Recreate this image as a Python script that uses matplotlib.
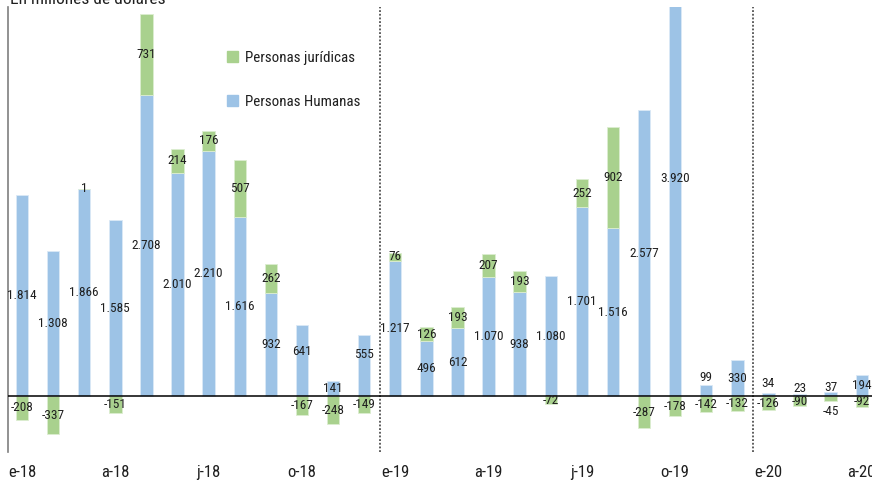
import matplotlib
matplotlib.use("Agg")
import matplotlib.pyplot as plt
from matplotlib import font_manager
from matplotlib.patches import Patch

# pick a narrow face if one is available
installed = {f.name for f in font_manager.fontManager.ttflist}
family = "Roboto"
for name in ["Roboto Condensed", "Liberation Sans Narrow"]:
    if name in installed:
        family = name
        break
plt.rcParams["font.family"] = [family, "DejaVu Sans"]

# monthly flows, Jan-2018 .. Apr-2020 (millions of USD)
months = ["e-18", "f-18", "m-18", "a-18", "m-18", "j-18", "j-18", "a-18", "s-18", "o-18", "n-18", "d-18",
          "e-19", "f-19", "m-19", "a-19", "m-19", "j-19", "j-19", "a-19", "s-19", "o-19", "n-19", "d-19",
          "e-20", "f-20", "m-20", "a-20"]
humanas = [1814, 1308, 1866, 1585, 2708, 2010, 2210, 1616, 932, 641, 141, 555,
           1217, 496, 612, 1070, 938, 1080, 1701, 1516, 2577, 3920, 99, 330,
           34, 23, 37, 194]
juridicas = [-208, -337, 1, -151, 731, 214, 176, 507, 262, -167, -248, -149,
             76, 126, 193, 207, 193, -72, 252, 902, -287, -178, -142, -132,
             -126, -90, -45, -92]
tick_every = 3

blue = "#9dc3e6"
green = "#a9d18e"
txt = "#1f1f1f"

# hand nudges (points) for labels that would collide near the zero line
hum_nudge = {9: 7, 11: 8, 22: 10, 24: 8, 25: 5, 26: 5}
jur_nudge = {26: -9}


def fmt(v):
    return f"{v:,}".replace(",", ".")


fig = plt.figure(figsize=(8.72, 4.8), dpi=100)
ax = fig.add_axes([0.0092, 0.0583, 0.9908, 0.927])

x = list(range(len(months)))
w = 0.4
jur_bottom = [h if j > 0 else 0 for h, j in zip(humanas, juridicas)]

ax.bar(x, humanas, width=w, color=blue, edgecolor="#dbe9f6", linewidth=0.6, zorder=2)
ax.bar(x, juridicas, width=w, bottom=jur_bottom, color=green, edgecolor="#dcedd0",
       linewidth=0.6, zorder=2)

for i in x:
    h = humanas[i]
    ax.annotate(fmt(h), (i, h / 2), xytext=(0, hum_nudge.get(i, 0)), textcoords="offset points",
                ha="center", va="center", fontsize=9.5, color=txt, zorder=4)
    j = juridicas[i]
    ax.annotate(fmt(j), (i, jur_bottom[i] + j / 2), xytext=(0, jur_nudge.get(i, 0)),
                textcoords="offset points", ha="center", va="center", fontsize=9.5, color=txt, zorder=4)

ax.axhline(0, color="black", linewidth=1.1, zorder=3)
for xv in (11.5, 23.5):
    ax.axvline(xv, color="#333333", linestyle=(0, (1.2, 1.2)), linewidth=1.1, zorder=1)

ax.set_ylim(-500, 3500)
ax.set_xlim(-0.45, 27.33)
ax.set_yticks([])
ax.set_xticks(x[::tick_every])
ax.set_xticklabels(months[::tick_every], fontsize=12, color=txt)
ax.tick_params(axis="x", length=0, pad=9.5)
for side in ("top", "right", "bottom"):
    ax.spines[side].set_visible(False)
ax.spines["left"].set_color("#7f7f7f")
ax.spines["left"].set_linewidth(1.2)

handles = [Patch(color=green, label="Personas jurídicas"),
           Patch(color=blue, label="Personas Humanas")]
ax.legend(handles=handles, loc="upper left", bbox_to_anchor=(0.238, 0.932), frameon=False,
          fontsize=10.8, handlelength=0.75, handleheight=0.75, handletextpad=0.45,
          labelspacing=2.0, labelcolor=txt)

fig.text(0.012, 1 - 4 / 480, "En millones de dólares", fontsize=12.5, color=txt, va="baseline")

fig.savefig("out.png", dpi=100)
